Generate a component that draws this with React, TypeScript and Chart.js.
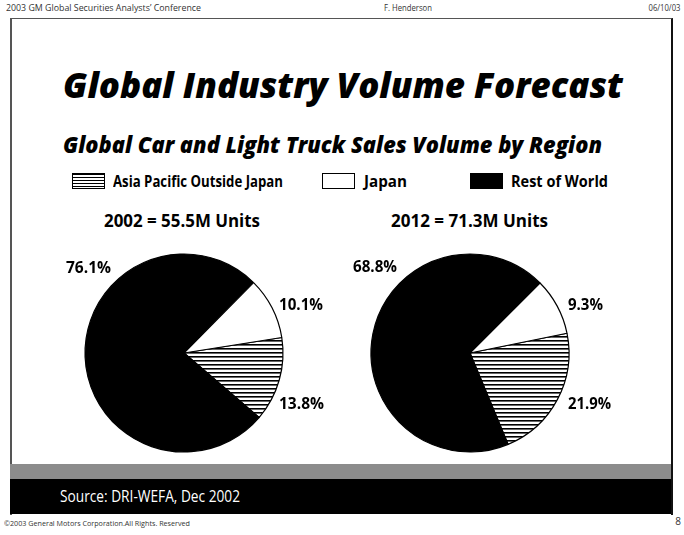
import React, { useEffect, useLayoutEffect, useRef } from 'react';
import { Chart, registerables } from 'chart.js';

Chart.register(...registerables);

// ---------- data ----------
const regions = ['Asia Pacific Outside Japan', 'Japan', 'Rest of World'];
const pieYears = ['2002', '2012'];
const pieTotals = ['55.5M', '71.3M'];
const share2002 = [13.8, 10.1, 76.1];
const share2012 = [21.9, 9.3, 68.8];
const drawOrder = [0, 2, 1]; // clockwise, starting with the hatched slice

const FONT = '"Open Sans", "Noto Sans", sans-serif';

function makeHatch(): CanvasPattern | string {
  const c = document.createElement('canvas');
  c.width = 8;
  c.height = 4;
  const g = c.getContext('2d');
  if (!g) return '#888';
  g.fillStyle = '#fff';
  g.fillRect(0, 0, 8, 4);
  g.fillStyle = '#000';
  g.fillRect(0, 0, 8, 1.6);
  const p = g.createPattern(c, 'repeat');
  return p || '#888';
}

type TxtProps = {
  x: number;
  y: number; // baseline
  size: number;
  w?: number;
  weight?: number;
  italic?: boolean;
  color?: string;
  align?: 'left' | 'right';
  children: React.ReactNode;
};

function Txt({ x, y, size, w, weight = 400, italic = false, color = '#000', align = 'left', children }: TxtProps) {
  const ref = useRef<HTMLSpanElement>(null);
  useLayoutEffect(() => {
    const el = ref.current;
    if (!el || !w) return;
    el.style.transform = 'none';
    const nat = el.getBoundingClientRect().width;
    if (nat > 0) el.style.transform = `scaleX(${w / nat})`;
  });
  const top = y - 0.888 * size;
  const style: React.CSSProperties = {
    position: 'absolute',
    top,
    fontFamily: FONT,
    fontSize: size,
    lineHeight: 1,
    fontWeight: weight,
    fontStyle: italic ? 'italic' : 'normal',
    color,
    whiteSpace: 'nowrap',
    transformOrigin: align === 'right' ? 'right top' : 'left top',
  };
  if (align === 'right') style.right = 684 - x;
  else style.left = x;
  return (
    <span ref={ref} style={style}>
      {children}
    </span>
  );
}

type PieProps = { values: number[]; cx: number; cy: number; radius: number; rotation: number };

function Pie({ values, cx, cy, radius, rotation }: PieProps) {
  const ref = useRef<HTMLCanvasElement>(null);
  const size = radius * 2 + 12;
  useEffect(() => {
    if (!ref.current) return;
    const hatch = makeHatch();
    const fills = [hatch, '#ffffff', '#000000'];
    const chart = new Chart(ref.current, {
      type: 'pie',
      data: {
        labels: drawOrder.map((i) => regions[i]),
        datasets: [
          {
            data: drawOrder.map((i) => values[i]),
            backgroundColor: drawOrder.map((i) => fills[i]) as any,
            borderColor: '#000',
            borderWidth: 1.2,
          },
        ],
      },
      options: {
        responsive: false,
        animation: false,
        rotation,
        radius,
        layout: { padding: 0 },
        plugins: { legend: { display: false }, tooltip: { enabled: false } },
      },
    });
    return () => chart.destroy();
  }, []);
  return (
    <canvas
      ref={ref}
      width={size}
      height={size}
      style={{ position: 'absolute', left: cx - size / 2, top: cy - size / 2, width: size, height: size }}
    />
  );
}

const pct = (v: number) => `${v.toFixed(1)}%`;

export default function App() {
  useEffect(() => {
    document.body.style.margin = '0';
  }, []);
  const hatchCss = 'repeating-linear-gradient(to bottom, #000 0px, #000 1px, #fff 1px, #fff 3px)';
  return (
    <div
      style={{
        position: 'absolute',
        left: 0,
        top: 0,
        width: 684,
        height: 535,
        background: '#fff',
        overflow: 'hidden',
      }}
    >
      {/* header */}
      <Txt x={6} y={11} size={9} w={195} color="#333">
        2003 GM Global Securities Analysts’ Conference
      </Txt>
      <Txt x={384} y={11} size={9} w={48} color="#333">
        F. Henderson
      </Txt>
      <Txt x={680} y={11} size={9} w={32} color="#333" align="right">
        06/10/03
      </Txt>

      {/* frame */}
      <div
        style={{
          position: 'absolute',
          left: 10,
          top: 18,
          width: 659,
          height: 496,
          borderLeft: '2px solid #555',
          borderTop: '1px solid #555',
          borderRight: '2px solid #111',
        }}
      />
      <div style={{ position: 'absolute', left: 10, top: 464, width: 661, height: 15, background: '#8c8c8c' }} />
      <div style={{ position: 'absolute', left: 10, top: 479, width: 661, height: 35, background: '#000' }} />

      {/* titles */}
      <Txt x={63} y={99} size={36} w={560} weight={800} italic>
        Global Industry Volume Forecast
      </Txt>
      <Txt x={63} y={154} size={22.5} w={539} weight={800} italic>
        Global Car and Light Truck Sales Volume by Region
      </Txt>

      {/* legend */}
      <div
        style={{
          position: 'absolute',
          left: 72,
          top: 173,
          width: 31,
          height: 14,
          border: '1px solid #000',
          background: hatchCss,
        }}
      />
      <Txt x={113} y={188} size={16.5} w={170} weight={700}>
        {regions[0]}
      </Txt>
      <div
        style={{
          position: 'absolute',
          left: 322,
          top: 173,
          width: 31,
          height: 14,
          border: '1.5px solid #000',
          background: '#fff',
        }}
      />
      <Txt x={364} y={188} size={16.5} w={43} weight={700}>
        {regions[1]}
      </Txt>
      <div style={{ position: 'absolute', left: 470, top: 173, width: 33, height: 16, background: '#000' }} />
      <Txt x={511} y={188} size={16.5} w={97} weight={700}>
        {regions[2]}
      </Txt>

      {/* pie headings */}
      <Txt x={104} y={227} size={18} w={156} weight={700}>
        {`${pieYears[0]} = ${pieTotals[0]} Units`}
      </Txt>
      <Txt x={391} y={227} size={18} w={157} weight={700}>
        {`${pieYears[1]} = ${pieTotals[1]} Units`}
      </Txt>

      {/* pies */}
      <Pie values={share2002} cx={184} cy={353} radius={99} rotation={81} />
      <Pie values={share2012} cx={470} cy={353} radius={99} rotation={78.5} />

      {/* slice labels */}
      <Txt x={66} y={273} size={16} w={45} weight={700}>
        {pct(share2002[2])}
      </Txt>
      <Txt x={279} y={310} size={16} w={44} weight={700}>
        {pct(share2002[1])}
      </Txt>
      <Txt x={279} y={409} size={16} w={45} weight={700}>
        {pct(share2002[0])}
      </Txt>
      <Txt x={353} y={272} size={16} w={44} weight={700}>
        {pct(share2012[2])}
      </Txt>
      <Txt x={568} y={310} size={16} w={35} weight={700}>
        {pct(share2012[1])}
      </Txt>
      <Txt x={568} y={409} size={16} w={43} weight={700}>
        {pct(share2012[0])}
      </Txt>

      {/* source band text */}
      <Txt x={60} y={502} size={17} w={180} color="#fff">
        Source: DRI-WEFA, Dec 2002
      </Txt>

      {/* footer */}
      <Txt x={4} y={526} size={7} w={186} color="#333">
        ©2003 General Motors Corporation.All Rights. Reserved
      </Txt>
      <Txt x={681} y={525} size={10} color="#333" align="right">
        8
      </Txt>
    </div>
  );
}
